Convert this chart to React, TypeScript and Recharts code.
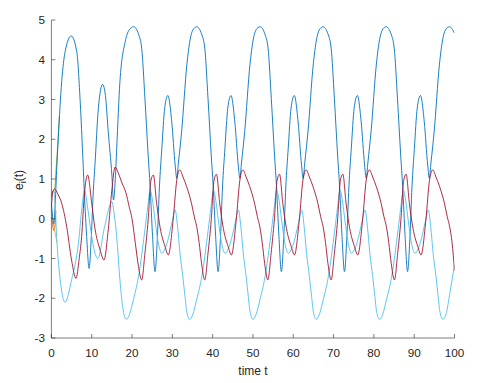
import React from "react";
import { LineChart, Line, XAxis, YAxis } from "recharts";

const xTicks = [0, 10, 20, 30, 40, 50, 60, 70, 80, 90, 100];
const yTicks = [-3, -2, -1, 0, 1, 2, 3, 4, 5];

const blueT = [0, 0.3, 0.6, 0.9, 1.3, 1.7, 2.55, 3.4, 4.9, 6.3, 7.1, 7.7, 8.2, 8.75, 9.35, 9.9, 10.4, 10.8, 11.65, 12.7, 13.4, 14.1, 15.0, 15.4, 15.8, 16.2, 17.0, 18.3, 19.3,
  20.4, 21.6, 22.4, 23.2, 24.0, 24.5, 25.1, 25.7, 26.3, 26.8, 27.4, 28.1, 28.9, 29.85, 30.7, 31.1, 31.5, 32.3, 33.6, 34.4, 35.1,
  36.05, 37.25, 38.05, 38.85, 39.65, 40.15, 40.75, 41.35, 41.95, 42.45, 43.05, 43.75, 44.55, 45.5, 46.35, 46.75, 47.15, 47.95, 49.25, 50.05, 50.75,
  51.75, 52.95, 53.75, 54.55, 55.35, 55.85, 56.45, 57.05, 57.65, 58.15, 58.75, 59.45, 60.25, 61.2, 62.05, 62.45, 62.85, 63.65, 64.95, 65.75, 66.45,
  67.4, 68.6, 69.4, 70.2, 71.0, 71.5, 72.1, 72.7, 73.3, 73.8, 74.4, 75.1, 75.9, 76.85, 77.7, 78.1, 78.5, 79.3, 80.6, 81.4, 82.1,
  83.05, 84.25, 85.05, 85.85, 86.65, 87.15, 87.75, 88.35, 88.95, 89.45, 90.05, 90.75, 91.55, 92.5, 93.35, 93.75, 94.15, 94.95, 96.25, 97.05, 97.75,
  98.75, 100];
const blueV = [0.4, 0.05, -0.12, 0.3, 1.2, 2.02, 3.45, 4.2, 4.6, 4.2, 3.03, 1.77, 0.6, -0.45, -1.25, -0.45, 0.7, 1.35, 2.78, 3.38, 3.1, 2.19, 1.1, 0.47, 0.9, 1.77, 3.45, 4.45, 4.75,
  4.83, 4.65, 4.29, 3.03, 1.6, 0.8, -0.45, -1.33, -0.45, 0.8, 1.77, 2.78, 3.1, 2.44, 1.35, 1.02, 1.4, 2.19, 3.87, 4.5, 4.75,
  4.83, 4.65, 4.29, 3.03, 1.6, 0.8, -0.45, -1.33, -0.45, 0.8, 1.77, 2.78, 3.1, 2.44, 1.35, 1.02, 1.4, 2.19, 3.87, 4.5, 4.75,
  4.83, 4.65, 4.29, 3.03, 1.6, 0.8, -0.45, -1.33, -0.45, 0.8, 1.77, 2.78, 3.1, 2.44, 1.35, 1.02, 1.4, 2.19, 3.87, 4.5, 4.75,
  4.83, 4.65, 4.29, 3.03, 1.6, 0.8, -0.45, -1.33, -0.45, 0.8, 1.77, 2.78, 3.1, 2.44, 1.35, 1.02, 1.4, 2.19, 3.87, 4.5, 4.75,
  4.83, 4.65, 4.29, 3.03, 1.6, 0.8, -0.45, -1.33, -0.45, 0.8, 1.77, 2.78, 3.1, 2.44, 1.35, 1.02, 1.4, 2.19, 3.87, 4.5, 4.75,
  4.83, 4.67];

const cyanT = [0, 0.6, 0.9, 1.3, 2.1, 3.4, 5.0, 6.7, 7.6, 8.2, 9.1, 10.0, 11.5, 13.2, 15.0, 15.6, 16.2, 17.0, 17.8,
  18.6, 19.4, 20.3, 21.6, 23.2, 23.9, 24.5, 25.1, 25.7, 26.5, 27.4, 28.2, 29.0, 29.9, 30.7, 31.3, 31.9, 32.6, 33.15, 33.6,
  34.3, 35.1, 36.0, 37.3, 38.9, 39.6, 40.2, 40.8, 41.4, 42.2, 43.1, 43.9, 44.7, 45.6, 46.4, 47.0, 47.6, 48.3, 48.85, 49.3,
  50.0, 50.8, 51.7, 53.0, 54.6, 55.3, 55.9, 56.5, 57.1, 57.9, 58.8, 59.6, 60.4, 61.3, 62.1, 62.7, 63.3, 64.0, 64.55, 65.0,
  65.7, 66.5, 67.4, 68.7, 70.3, 71.0, 71.6, 72.2, 72.8, 73.6, 74.5, 75.3, 76.1, 77.0, 77.8, 78.4, 79.0, 79.7, 80.25, 80.7,
  81.4, 82.2, 83.1, 84.4, 86.0, 86.7, 87.3, 87.9, 88.5, 89.3, 90.2, 91.0, 91.8, 92.7, 93.5, 94.1, 94.7, 95.4, 95.95, 96.4,
  97.1, 97.9, 98.8, 100];
const cyanV = [0.55, 0.7, 0.4, -0.45, -1.46, -2.1, -1.54, -0.62, 0.3, 0.72, 0.2, -0.45, -1.0, -0.2, 0.43, 0.1, -0.45, -1.54, -2.3,
  -2.53, -2.4, -2.05, -1.46, -0.28, 0.3, 0.72, 0.45, -0.03, -0.6, -0.87, -0.75, -0.5, -0.1, 0.22, -0.2, -0.87, -1.45, -1.96, -2.35,
  -2.53, -2.4, -2.05, -1.46, -0.28, 0.3, 0.72, 0.45, -0.03, -0.6, -0.87, -0.75, -0.5, -0.1, 0.22, -0.2, -0.87, -1.45, -1.96, -2.35,
  -2.53, -2.4, -2.05, -1.46, -0.28, 0.3, 0.72, 0.45, -0.03, -0.6, -0.87, -0.75, -0.5, -0.1, 0.22, -0.2, -0.87, -1.45, -1.96, -2.35,
  -2.53, -2.4, -2.05, -1.46, -0.28, 0.3, 0.72, 0.45, -0.03, -0.6, -0.87, -0.75, -0.5, -0.1, 0.22, -0.2, -0.87, -1.45, -1.96, -2.35,
  -2.53, -2.4, -2.05, -1.46, -0.28, 0.3, 0.72, 0.45, -0.03, -0.6, -0.87, -0.75, -0.5, -0.1, 0.22, -0.2, -0.87, -1.45, -1.96, -2.35,
  -2.53, -2.4, -1.9, -1.15];

const redT = [0, 0.4, 0.8, 1.6, 2.55, 3.8, 5.0, 6.1, 6.9, 7.5, 8.2, 9.0, 10.0, 10.8, 12.1, 13.05, 14.1, 15.0,
  15.8, 16.6, 17.5, 18.5, 19.3, 20.0, 20.8, 21.6, 22.4, 23.2, 24.0, 24.7, 25.3, 26.1, 27.0, 28.2, 29.0, 30.2, 31.1,
  31.85, 32.65, 33.55, 34.75, 35.45, 36.05, 36.65, 37.25, 38.05, 38.85, 39.65, 40.35, 40.95, 41.75, 42.65, 43.85, 44.65, 45.85, 46.75,
  47.5, 48.3, 49.2, 50.4, 51.1, 51.7, 52.3, 52.9, 53.7, 54.5, 55.3, 56.0, 56.6, 57.4, 58.3, 59.5, 60.3, 61.5, 62.4,
  63.2, 64.0, 64.9, 66.1, 66.8, 67.4, 68.0, 68.6, 69.4, 70.2, 71.0, 71.7, 72.3, 73.1, 74.0, 75.2, 76.0, 77.2, 78.1,
  78.9, 79.7, 80.6, 81.8, 82.5, 83.1, 83.7, 84.3, 85.1, 85.9, 86.7, 87.4, 88.0, 88.8, 89.7, 90.9, 91.7, 92.9, 93.8,
  94.6, 95.4, 96.3, 97.5, 98.2, 98.8, 99.4, 100];
const redV = [0.3, 0.7, 0.75, 0.62, 0.39, -0.2, -1.04, -1.5, -1.0, -0.45, 0.64, 1.1, 0.39, -0.24, -0.79, -1.04, -0.28, 0.72,
  1.3, 1.15, 0.9, 0.65, 0.3, 0.0, -0.6, -1.2, -1.54, -0.87, -0.03, 0.97, 1.1, 0.39, -0.24, -0.7, -0.91, -0.03, 0.97,
  1.23, 1.05, 0.81, 0.39, 0.05, -0.2, -0.6, -1.12, -1.54, -0.87, -0.03, 0.97, 1.12, 0.39, -0.24, -0.7, -0.91, -0.03, 0.97,
  1.23, 1.05, 0.81, 0.39, 0.05, -0.2, -0.6, -1.12, -1.54, -0.87, -0.03, 0.97, 1.12, 0.39, -0.24, -0.7, -0.91, -0.03, 0.97,
  1.23, 1.05, 0.81, 0.39, 0.05, -0.2, -0.6, -1.12, -1.54, -0.87, -0.03, 0.97, 1.12, 0.39, -0.24, -0.7, -0.91, -0.03, 0.97,
  1.23, 1.05, 0.81, 0.39, 0.05, -0.2, -0.6, -1.12, -1.54, -0.87, -0.03, 0.97, 1.12, 0.39, -0.24, -0.7, -0.91, -0.03, 0.97,
  1.23, 1.05, 0.81, 0.39, 0.05, -0.2, -0.6, -1.3];

const greenT = [0, 0.4, 0.8, 1.2, 1.6, 2.0];
const greenV = [0.6, 0.7, 0.75, 1.3, 1.9, 2.6];
const orangeT = [0, 0.3, 0.6, 0.9, 1.1];
const orangeV = [0.05, -0.15, -0.3, -0.15, 0.2];
const yellowT = [0, 0.4, 0.8, 1.1, 1.4];
const yellowV = [0.25, -0.05, -0.3, -0.45, -0.6];

const toRows = (ts: number[], vs: number[]) => ts.map((t, i) => ({ t, v: vs[i] }));

const blueData = toRows(blueT, blueV);
const cyanData = toRows(cyanT, cyanV);
const redData = toRows(redT, redV);
const greenData = toRows(greenT, greenV);
const orangeData = toRows(orangeT, orangeV);
const yellowData = toRows(yellowT, yellowV);

const AX = "#262626";
const FONT = "'Liberation Sans', Arial, Helvetica, sans-serif";
const TL = 4;

const BottomTick = (p: any) => (
  <g>
    <line x1={p.x} x2={p.x} y1={p.y} y2={p.y - TL} stroke={AX} strokeWidth={0.6} />
    <text x={p.x} y={p.y + 18.7} textAnchor="middle" fontSize={11.7} fontFamily={FONT} fill={AX}>
      {p.payload.value}
    </text>
  </g>
);
const TopTick = (p: any) => (
  <line x1={p.x} x2={p.x} y1={p.y} y2={p.y + TL} stroke={AX} strokeWidth={0.6} />
);
const LeftTick = (p: any) => (
  <g>
    <line x1={p.x} x2={p.x + TL} y1={p.y} y2={p.y} stroke={AX} strokeWidth={0.6} />
    <text x={p.x - 6.5} y={p.y + 4.2} textAnchor="end" fontSize={11.7} fontFamily={FONT} fill={AX}>
      {p.payload.value}
    </text>
  </g>
);
const RightTick = (p: any) => (
  <line x1={p.x} x2={p.x - TL} y1={p.y} y2={p.y} stroke={AX} strokeWidth={0.6} />
);

const YLabel = () => (
  <text transform="translate(23,180) rotate(-90)" textAnchor="middle" fontSize={12} fontFamily={FONT} fill={AX}>
    e<tspan fontSize={9} dy={3}>i</tspan><tspan dy={-3}>(t)</tspan>
  </text>
);
const XLabel = () => (
  <text x={253} y={375} textAnchor="middle" fontSize={12} fontFamily={FONT} fill={AX}>
    time t
  </text>
);

export default function App() {
  const axisLine = { stroke: AX, strokeWidth: 0.6 };
  return (
    <div style={{ position: "absolute", left: 0, top: 0, background: "#fff" }}>
      <LineChart width={482} height={383} margin={{ top: 20, right: 27.5, bottom: 0, left: 0 }}>
        <XAxis xAxisId={0} type="number" dataKey="t" domain={[0, 100]} ticks={xTicks} height={45}
          tickSize={0} tickMargin={0} tickLine={false} axisLine={axisLine} tick={BottomTick}
          allowDataOverflow interval={0} label={<XLabel />} />
        <XAxis xAxisId="top" orientation="top" type="number" dataKey="t" domain={[0, 100]} ticks={xTicks} height={0}
          tickSize={0} tickMargin={0} tickLine={false} axisLine={axisLine} tick={TopTick}
          allowDataOverflow interval={0} />
        <YAxis yAxisId={0} type="number" domain={[-3, 5]} ticks={yTicks} width={51.4}
          tickSize={0} tickMargin={0} tickLine={false} axisLine={axisLine} tick={LeftTick}
          allowDataOverflow interval={0} label={<YLabel />} />
        <YAxis yAxisId="right" orientation="right" type="number" domain={[-3, 5]} ticks={yTicks} width={0}
          tickSize={0} tickMargin={0} tickLine={false} axisLine={axisLine} tick={RightTick}
          allowDataOverflow interval={0} />
        <Line data={greenData} dataKey="v" type="monotone" stroke="#77AC30" strokeWidth={0.9} dot={false} isAnimationActive={false} />
        <Line data={orangeData} dataKey="v" type="monotone" stroke="#D95319" strokeWidth={0.9} dot={false} isAnimationActive={false} />
        <Line data={yellowData} dataKey="v" type="monotone" stroke="#EDB120" strokeWidth={0.9} dot={false} isAnimationActive={false} />
        <Line data={blueData} dataKey="v" type="monotone" stroke="#0072BD" strokeWidth={0.9} dot={false} isAnimationActive={false} />
        <Line data={cyanData} dataKey="v" type="monotone" stroke="#4DBEEE" strokeWidth={0.9} dot={false} isAnimationActive={false} />
        <Line data={redData} dataKey="v" type="monotone" stroke="#A2142F" strokeWidth={0.9} dot={false} isAnimationActive={false} />
      </LineChart>
    </div>
  );
}
